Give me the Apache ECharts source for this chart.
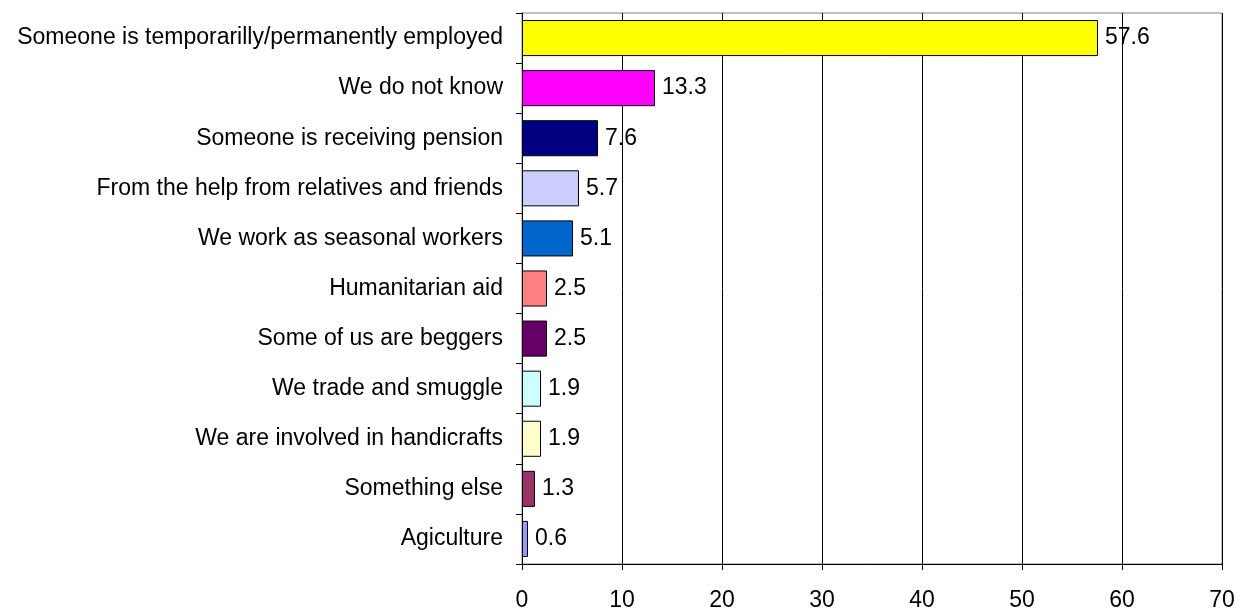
<!DOCTYPE html>
<html>
<head>
<meta charset="utf-8">
<script src="https://cdn.jsdelivr.net/npm/echarts@6/dist/echarts.min.js"></script>
<style>
  html, body { margin: 0; padding: 0; background: #fff; }
  #chart { width: 1244px; height: 609px; }
</style>
</head>
<body>
<div id="chart"></div>
<script>
// Sources of household income, share of respondents (%)
const categories = [
  'Someone is temporarilly/permanently employed',
  'We do not know',
  'Someone is receiving pension',
  'From the help from relatives and friends',
  'We work as seasonal workers',
  'Humanitarian aid',
  'Some of us are beggers',
  'We trade and smuggle',
  'We are involved in handicrafts',
  'Something else',
  'Agiculture'
];
const values = [57.6, 13.3, 7.6, 5.7, 5.1, 2.5, 2.5, 1.9, 1.9, 1.3, 0.6];
const barColors = [
  '#FFFF00', '#FF00FF', '#000080', '#CCCCFF', '#0066CC', '#FF8080',
  '#660066', '#CCFFFF', '#FFFFCC', '#993366', '#9999FF'
];

const chart = echarts.init(document.getElementById('chart'));
const font = 'Liberation Sans, Arial, sans-serif';
const fs = 23;

chart.setOption({
  animation: false,
  grid: { left: 522, right: 22, top: 13, bottom: 45, containLabel: false,
          outerBoundsMode: 'none',
          show: true, borderColor: '#808080', borderWidth: 1 },
  xAxis: {
    type: 'value', min: 0, max: 70, interval: 10,
    axisLine: { show: true, lineStyle: { color: '#000', width: 1 } },
    axisTick: { show: true, length: 6, lineStyle: { color: '#000' } },
    axisLabel: { color: '#000', fontSize: fs, fontFamily: font, margin: 25 },
    splitLine: { show: true, lineStyle: { color: '#000', width: 1 } }
  },
  yAxis: {
    type: 'category', data: categories, inverse: true,
    axisLine: { show: true, lineStyle: { color: '#000', width: 1 } },
    axisTick: { show: true, length: 6, lineStyle: { color: '#000' } },
    axisLabel: { color: '#000', fontSize: fs, fontFamily: font, margin: 19 },
    splitLine: { show: false }
  },
  series: [{
    type: 'bar',
    data: values.map((v, i) => ({ value: v, itemStyle: { color: barColors[i] } })),
    barCategoryGap: '28%',
    itemStyle: { borderColor: '#000', borderWidth: 1 },
    label: {
      show: true, position: 'right', distance: 7,
      color: '#000', fontSize: fs, fontFamily: font
    }
  }]
});
</script>
</body>
</html>
